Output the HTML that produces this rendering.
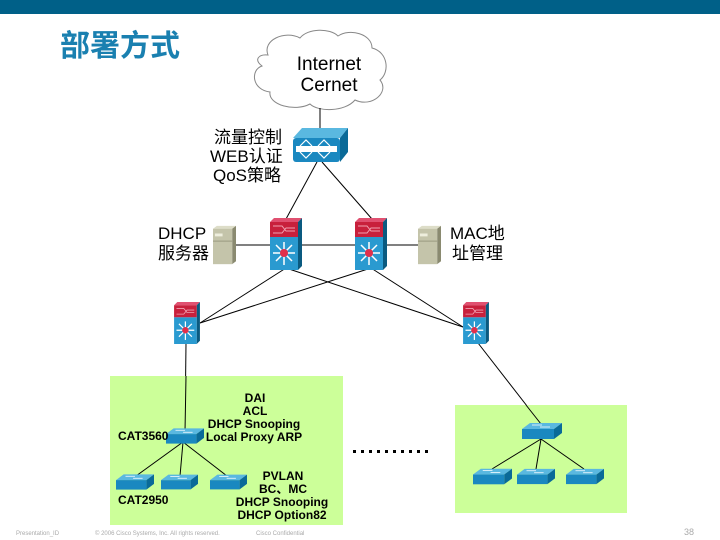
<!DOCTYPE html>
<html><head><meta charset="utf-8"><style>
html,body{margin:0;padding:0;background:#fff;width:720px;height:540px;overflow:hidden}
svg{display:block}
</style></head><body>
<svg width="720" height="540" viewBox="0 0 720 540" xmlns="http://www.w3.org/2000/svg" font-family="Liberation Sans, Noto Sans CJK SC, sans-serif">
<defs>
  <symbol id="l3" viewBox="0 0 32 52">
    <polygon points="0,4 4,0 32,0 28,4" fill="#e05070"/>
    <polygon points="28,4 32,0 32,48 28,52" fill="#0a5a80"/>
    <rect x="0" y="4" width="28" height="15" fill="#c8203c"/>
    <path d="M3,8 H12 L16,13 H25 M3,15 H12 L16,10 H25" stroke="#f0a0b0" stroke-width="1" fill="none"/>
    <rect x="0" y="19" width="28" height="33" fill="#2a9ad0"/>
    <g stroke="#fff" stroke-width="1.5">
      <line x1="14" y1="24" x2="14" y2="47"/><line x1="3" y1="35" x2="25" y2="35"/>
      <line x1="6" y1="27" x2="22" y2="43"/><line x1="22" y1="27" x2="6" y2="43"/>
    </g>
    <circle cx="14" cy="35" r="4" fill="#e0304c"/>
  </symbol>
  <symbol id="sw" viewBox="0 0 40 16">
    <polygon points="0,6 8,0 40,0 32,6" fill="#5ab8e0"/>
    <polygon points="32,6 40,0 40,10 32,16" fill="#0a6a98"/>
    <rect x="0" y="6" width="32" height="10" fill="#1a88c0"/>
    <path d="M10,2 H20 M18,4 H28" stroke="#fff" stroke-width="0.8"/>
  </symbol>
  <symbol id="srv" viewBox="0 0 24 40">
    <polygon points="0,3 4,0 24,0 20,3" fill="#ddddc8"/>
    <polygon points="20,3 24,0 24,37 20,40" fill="#8a8a70"/>
    <rect x="0" y="3" width="20" height="37" fill="#c4c4aa"/>
    <rect x="2" y="8" width="8" height="3" fill="#eeeedd"/>
    <line x1="0" y1="16" x2="20" y2="16" stroke="#9a9a80"/>
  </symbol>
</defs>
<rect x="0" y="0" width="720" height="14" fill="#006088"/>
<text x="60" y="56" font-size="30" font-weight="bold" fill="#1a80b0" font-family="Noto Sans CJK SC, sans-serif">部署方式</text>
<path d="M268,55 C262,40 285,30 300,38 C308,28 330,28 338,36 C350,28 372,34 372,48 C388,52 390,72 380,80 C390,92 372,108 355,100 C345,112 318,112 310,104 C295,112 268,105 270,92 C252,90 250,70 262,66 C254,60 258,54 268,55 Z" fill="#fff" stroke="#888" stroke-width="1"/>
<text x="329" y="70" font-size="19" text-anchor="middle">Internet</text>
<text x="329" y="91" font-size="19" text-anchor="middle">Cernet</text>
<g stroke="#000" stroke-width="1" fill="none">
  <line x1="320" y1="108" x2="320" y2="130"/>
  <line x1="317" y1="162" x2="286" y2="219"/>
  <line x1="322" y1="162" x2="372" y2="219"/>
  <line x1="236" y1="245" x2="418" y2="245"/>
  <line x1="286" y1="268" x2="200" y2="323"/>
  <line x1="286" y1="268" x2="463" y2="327"/>
  <line x1="371" y1="268" x2="200" y2="323"/>
  <line x1="371" y1="268" x2="463" y2="327"/>
  <line x1="186" y1="343" x2="185" y2="432"/>
  <line x1="478" y1="343" x2="541" y2="424"/>
</g>
<g>
  <polygon points="293,138 302,128 348,128 340,138" fill="#5ab8e0"/>
  <polygon points="340,138 348,128 348,152 340,162" fill="#0a6a98"/>
  <rect x="293" y="138" width="47" height="24" rx="3" fill="#1a88c0"/>
  <rect x="296" y="146" width="41" height="6" fill="#fff"/>
  <path d="M300,146 L306,140 L312,146 M318,146 L324,140 L330,146 M300,152 L306,158 L312,152 M318,152 L324,158 L330,152" stroke="#fff" fill="none" stroke-width="1.2"/>
</g>
<text font-size="17" fill="#000">
  <tspan x="214" y="143">流量控制</tspan>
  <tspan x="210" y="162">WEB认证</tspan>
  <tspan x="213" y="181">QoS策略</tspan>
</text>
<use href="#l3" x="270" y="218" width="32" height="52"/>
<use href="#l3" x="355" y="218" width="32" height="52"/>
<use href="#srv" x="213" y="225" width="23" height="40"/>
<use href="#srv" x="418" y="225" width="23" height="40"/>
<text x="158" y="239" font-size="17">DHCP</text>
<text x="158" y="259" font-size="17">服务器</text>
<text x="450" y="239" font-size="17">MAC地</text>
<text x="452" y="259" font-size="17">址管理</text>
<use href="#l3" x="173" y="302" width="28" height="42"/>
<use href="#l3" x="462" y="302" width="28" height="42"/>
<rect x="110" y="376" width="233" height="149" fill="#ccff99"/>
<rect x="455" y="405" width="172" height="108" fill="#ccff99"/>
<g stroke="#000" stroke-width="1">
  <line x1="186" y1="376" x2="185" y2="432"/>
  <line x1="183" y1="442" x2="136" y2="476"/>
  <line x1="183" y1="442" x2="180" y2="476"/>
  <line x1="183" y1="442" x2="227" y2="476"/>
  <line x1="526" y1="405" x2="541" y2="424"/>
  <line x1="541" y1="439" x2="492" y2="469"/>
  <line x1="541" y1="439" x2="536" y2="469"/>
  <line x1="541" y1="439" x2="584" y2="469"/>
</g>
<use href="#sw" x="166" y="428" width="38" height="16"/>
<use href="#sw" x="116" y="474" width="38" height="16"/>
<use href="#sw" x="161" y="474" width="37" height="16"/>
<use href="#sw" x="210" y="474" width="37" height="16"/>
<use href="#sw" x="522" y="422" width="40" height="18"/>
<use href="#sw" x="473" y="468" width="39" height="17"/>
<use href="#sw" x="517" y="468" width="38" height="17"/>
<use href="#sw" x="566" y="468" width="38" height="17"/>
<g font-size="12" font-weight="bold" text-anchor="middle">
  <text x="255" y="402">DAI</text>
  <text x="255" y="415">ACL</text>
  <text x="254" y="428">DHCP Snooping</text>
  <text x="254" y="441">Local Proxy ARP</text>
  <text x="283" y="480">PVLAN</text>
  <text x="283" y="493">BC、MC</text>
  <text x="282" y="506">DHCP Snooping</text>
  <text x="282" y="519">DHCP Option82</text>
</g>
<text x="118" y="440" font-size="12" font-weight="bold">CAT3560</text>
<text x="118" y="504" font-size="12" font-weight="bold">CAT2950</text>
<g fill="#000">
  <rect x="353" y="450" width="3" height="3"/><rect x="361" y="450" width="3" height="3"/>
  <rect x="369" y="450" width="3" height="3"/><rect x="377" y="450" width="3" height="3"/>
  <rect x="385" y="450" width="3" height="3"/><rect x="393" y="450" width="3" height="3"/>
  <rect x="401" y="450" width="3" height="3"/><rect x="409" y="450" width="3" height="3"/>
  <rect x="417" y="450" width="3" height="3"/><rect x="425" y="450" width="3" height="3"/>
</g>
<g font-size="6" fill="#aaa">
  <text x="16" y="535">Presentation_ID</text>
  <text x="95" y="535">© 2006 Cisco Systems, Inc. All rights reserved.</text>
  <text x="256" y="535">Cisco Confidential</text>
  <text x="684" y="535" font-size="9">38</text>
</g>
</svg>
</body></html>
